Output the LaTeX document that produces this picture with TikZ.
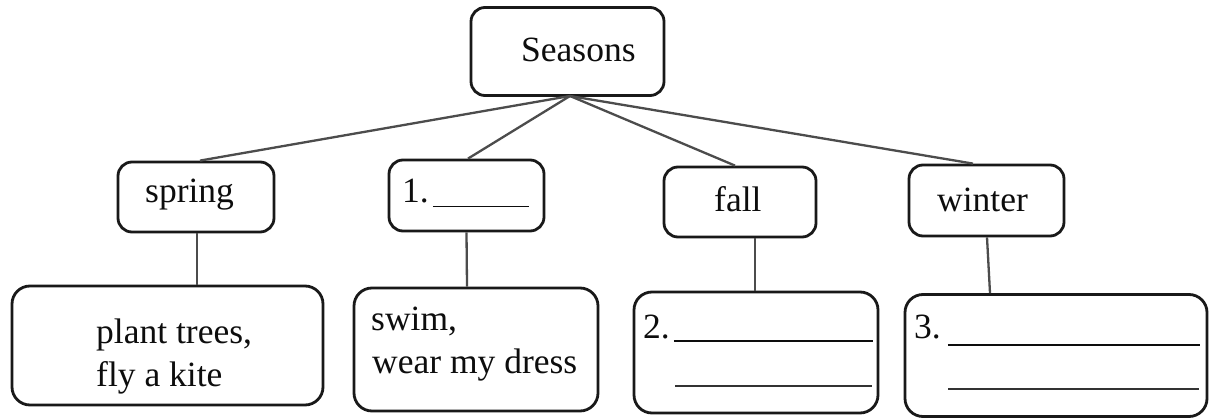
\documentclass[tikz,border=0pt]{standalone}
\usepackage{fontspec}
\setmainfont{Liberation Serif}
\begin{document}
\begin{tikzpicture}[x=1pt,y=-1pt,
  box/.style={draw=black!90, line width=2.8pt, rounded corners=14pt, inner sep=0pt},
  bigbox/.style={box, rounded corners=18pt},
  conn/.style={draw=black!70, line width=2.3pt},
  txt/.style={anchor=base west, inner sep=0pt, text=black!95, font=\fontsize{35.5}{42}\selectfont},
  blank/.style={draw=black!80, line width=1.5pt}]
\useasboundingbox (0,0) rectangle (1222,419);
\fill[white] (0,0) rectangle (1222,419);
% boxes
\node[box, minimum width=193pt, minimum height=88pt] (seasons) at (567.5,51.5) {};
\node[box, minimum width=156pt, minimum height=70pt] (spring) at (196,197) {};
\node[box, minimum width=155pt, minimum height=71pt] (one) at (466.5,195.5) {};
\node[box, minimum width=152pt, minimum height=70pt] (fall) at (740,202) {};
\node[box, minimum width=155pt, minimum height=71pt] (winter) at (986.5,200.5) {};
\node[bigbox, minimum width=311pt, minimum height=119pt] (plant) at (167.5,345.5) {};
\node[bigbox, minimum width=244pt, minimum height=123pt] (swim) at (476,349.5) {};
\node[bigbox, minimum width=244pt, minimum height=121pt] (two) at (756,352.5) {};
\node[bigbox, minimum width=302pt, minimum height=122pt] (three) at (1056,355.5) {};
% connectors
\coordinate (hub) at (570,96);
\draw[conn] (hub) -- ([xshift=4pt]spring.north);
\draw[conn] (hub) -- ([xshift=1.5pt]one.north);
\draw[conn] (hub) -- ([xshift=-5pt]fall.north);
\draw[conn] (hub) -- ([xshift=-13.5pt]winter.north);
\draw[conn] ([xshift=1pt]spring.south) -- ([xshift=29.5pt]plant.north);
\draw[conn] (one.south) -- ([xshift=-9pt]swim.north);
\draw[conn] ([xshift=15pt]fall.south) -- ([xshift=-1pt]two.north);
\draw[conn] ([xshift=0.5pt]winter.south) -- ([xshift=-66pt]three.north);
% texts
\node[txt] (tseasons) at (521,62) {Seasons};
\node[txt] (tspring) at (145,203) {spring};
\node[txt] (tone) at (402,203) {1.\hspace{4pt}\rule[-4.5pt]{96pt}{1.5pt}};
\node[txt] (tfall) at (714,212) {fall};
\node[txt] (twinter) at (937,212) {winter};
\node[txt] (tplant1) at (96,343) {plant trees,};
\node[txt] (tplant2) at (96,386) {fly a kite};
\node[txt] (tswim1) at (371,330) {swim,};
\node[txt] (tswim2) at (372,373) {wear my dress};
\node[txt] (ttwo) at (643,338) {2.\hspace{4pt}\rule[-3.5pt]{199pt}{1.5pt}};
\node[txt] (tthree) at (914,338) {3.\hspace{7pt}\rule[-7.5pt]{252pt}{1.5pt}};
\draw[blank] (675,386) -- (872,386);
\draw[blank] (948,389) -- (1199,389);
\end{tikzpicture}
\end{document}
